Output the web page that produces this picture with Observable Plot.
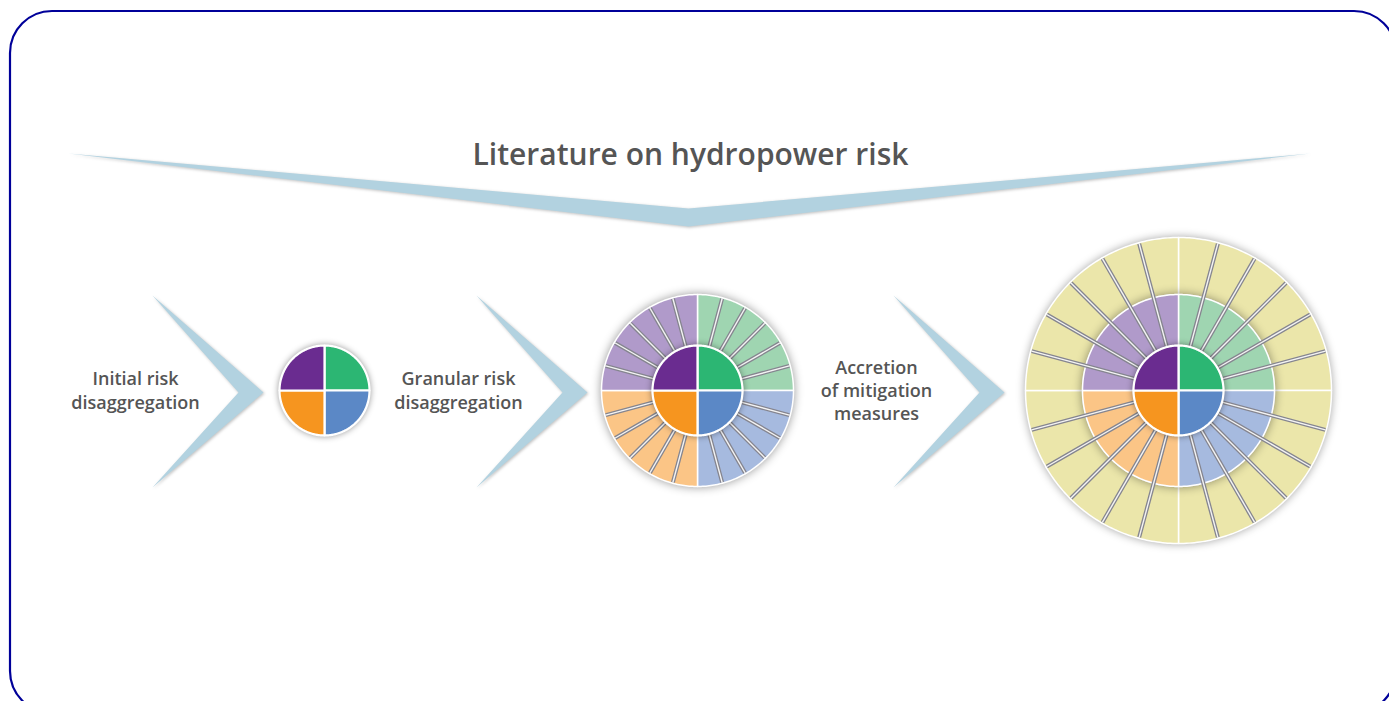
<!DOCTYPE html>
<html><head><meta charset="utf-8">
<script src="https://cdn.jsdelivr.net/npm/d3@7"></script>
<script src="https://cdn.jsdelivr.net/npm/@observablehq/plot@0.6"></script>
<style>html,body{margin:0;padding:0;background:#fff;overflow:hidden}#chart svg{display:block}</style>
</head><body><div id="chart"></div>
<script>
// ---- content ----
const title = "Literature on hydropower risk";
const stageLabels = ["Initial risk\ndisaggregation", "Granular risk\ndisaggregation", "Accretion\nof mitigation\nmeasures"];
const quadrants = ["NE", "SE", "SW", "NW"]; // clockwise from north
const riskColors = ["#2cb673", "#5b88c6", "#f6951f", "#6a2c90"];
const subRiskColors = ["#9fd5b1", "#a6badf", "#fbc586", "#b09aca"];
const mitigationColor = "#ebe6aa";
const subRiskCounts = [6, 6, 6, 6];
const mitigationCounts = [6, 6, 6, 6];
const ringsPerStage = [1, 2, 3];

// ---- layout ----
const W = 1389, H = 701;
const cy = 390;
const circleX = [324, 697, 1178];
const ringRadii = [45, 96, 153];
const chevronX = [152, 476, 893];   // left tips of the stage chevrons
const chevronDepth = 111, chevronNotch = 86, chevronHalf = 95;
const labelX = [135, 458, 876];
const labelY = 389;
const fontFamily = "'Open Sans', Lato, sans-serif";

const rad = d => d * Math.PI / 180;
const pt = (cx, r, a) => [cx + r * Math.sin(rad(a)), cy - r * Math.cos(rad(a))];

function wedge(rows, id, cx, r0, r1, a0, a1, fill) {
  const n = Math.max(2, Math.ceil(a1 - a0));
  const pts = [];
  for (let i = 0; i <= n; i++) pts.push(pt(cx, r1, a0 + (a1 - a0) * i / n));
  if (r0 > 0) for (let i = n; i >= 0; i--) pts.push(pt(cx, r0, a0 + (a1 - a0) * i / n));
  else pts.push([cx, cy]);
  pts.push(pts[0]);
  for (const [x, y] of pts) rows.push({id, x, y, fill});
}

const levels = [[], [], []];
const radial = [];
ringsPerStage.forEach((rings, s) => {
  const cx = circleX[s];
  quadrants.forEach((q, qi) => {
    const a0 = qi * 90;
    wedge(levels[0], `s${s}-${q}`, cx, 0, ringRadii[0], a0, a0 + 90, riskColors[qi]);
    if (rings >= 2) {
      const n = subRiskCounts[qi];
      for (let k = 0; k < n; k++)
        wedge(levels[1], `s${s}-${q}-r${k}`, cx, ringRadii[0], ringRadii[1], a0 + k * 90 / n, a0 + (k + 1) * 90 / n, subRiskColors[qi]);
      for (let k = 1; k < n; k++) {
        const a = a0 + k * 90 / n;
        const [x1, y1] = pt(cx, ringRadii[0] + 1, a);
        const [x2, y2] = pt(cx, ringRadii[rings - 1] - 1, a);
        radial.push({x1, y1, x2, y2});
      }
    }
    if (rings >= 3) {
      const n = mitigationCounts[qi];
      for (let k = 0; k < n; k++)
        wedge(levels[2], `s${s}-${q}-m${k}`, cx, ringRadii[1], ringRadii[2], a0 + k * 90 / n, a0 + (k + 1) * 90 / n, mitigationColor);
    }
  });
});

// chevrons
const chevronRows = [];
[[68, 153], [688, 208], [1310, 153], [688, 226], [68, 153]].forEach(([x, y]) => chevronRows.push({id: "top", x, y}));
chevronX.forEach((x0, i) => {
  [[x0, cy - chevronHalf], [x0 + chevronDepth, cy + 2], [x0, cy + chevronHalf + 2], [x0 + chevronNotch, cy + 2], [x0, cy - chevronHalf]]
    .forEach(([x, y]) => chevronRows.push({id: "c" + i, x, y}));
});

const labels = stageLabels.map((t, i) => ({t, x: labelX[i], y: labelY}));

const chart = Plot.plot({
  width: W, height: H, margin: 0,
  x: {domain: [0, W], range: [0, W], axis: null},
  y: {domain: [0, H], range: [0, H], axis: null},
  style: {background: "white", overflow: "hidden"},
  marks: [
    Plot.rect([0], {x1: 10, x2: 1396, y1: 11, y2: 713, rx: 42, fill: "none", stroke: "#000099", strokeWidth: 2.2}),
    Plot.line(chevronRows, {x: "x", y: "y", z: "id", fill: "#b2d2e0", stroke: "none", curve: "linear",
      imageFilter: "drop-shadow(1px 1px 1.5px rgba(0,0,0,0.25))"}),
    Plot.text([title], {x: 690, y: 155, text: d => d, fontSize: 30, fontWeight: 600, fill: "#555555", fontFamily}),
    Plot.text(labels, {x: "x", y: "y", text: "t", fontSize: 18, fontWeight: 600, fill: "#555555", lineHeight: 1.3, fontFamily}),
    Plot.line(levels[2], {x: "x", y: "y", z: "id", fill: "fill", stroke: "white", strokeWidth: 1.5,
      imageFilter: "drop-shadow(0 0 4px rgba(0,0,0,0.35))"}),
    Plot.line(levels[1], {x: "x", y: "y", z: "id", fill: "fill", stroke: "white", strokeWidth: 1.5,
      imageFilter: "drop-shadow(0 0 5px rgba(0,0,0,0.4))"}),
    Plot.link(radial, {x1: "x1", y1: "y1", x2: "x2", y2: "y2", stroke: "#85858f", strokeWidth: 4}),
    Plot.link(radial, {x1: "x1", y1: "y1", x2: "x2", y2: "y2", stroke: "#f4f4f4", strokeWidth: 1.4}),
    Plot.line(levels[0], {x: "x", y: "y", z: "id", fill: "fill", stroke: "white", strokeWidth: 2.2,
      imageFilter: "drop-shadow(0 0 3px rgba(0,0,0,0.4))"})
  ]
});
document.getElementById("chart").append(chart);
</script>
</body></html>
